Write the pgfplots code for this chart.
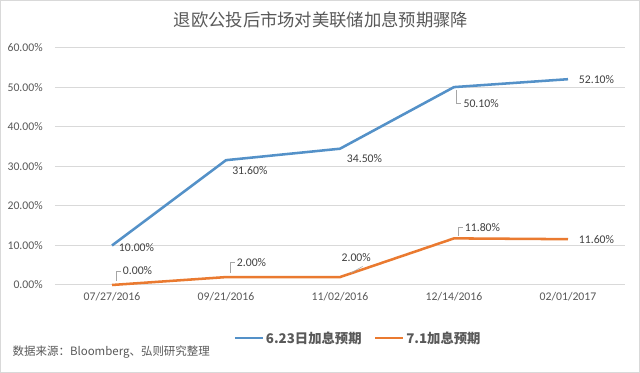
\documentclass[border=0pt]{standalone}
\usepackage{pgfplots}
\pgfplotsset{compat=1.18}
\usepackage{fontspec}
\setmainfont{Carlito}
\newfontfamily\cjk{Noto Sans CJK SC}
\definecolor{blueS}{RGB}{84,145,200}
\definecolor{orangeS}{RGB}{234,122,48}
\definecolor{txt}{RGB}{89,89,89}
\definecolor{lbl}{RGB}{64,64,64}
\definecolor{gridc}{RGB}{217,217,217}
\definecolor{lead}{RGB}{166,166,166}
\begin{document}
\begin{tikzpicture}[x=0.75pt,y=0.75pt]
\path[use as bounding box] (0,0) rectangle (640,373);
\fill[white] (0,0) rectangle (640,373);
\draw[gridc, line width=1pt] (0.7,0.7) rectangle (639.3,372.3);
\node[font=\cjk\fontsize{13}{15}\selectfont, text=txt] at (321,353) {退欧公投后市场对美联储加息预期骤降};
\node[font=\cjk\fontsize{8.6}{10}\selectfont, text=txt, anchor=west] at (8,21) {数据来源：Bloomberg、弘则研究整理};
\begin{axis}[
  at={(41.25pt,66pt)}, anchor=south west,
  scale only axis, width=427.5pt, height=177.75pt,
  xmin=-0.5, xmax=4.5, ymin=0, ymax=60,
  clip=false,
  axis line style={draw=none},
  major tick length=0pt,
  xtick={0,1,2,3,4},
  xticklabels={07/27/2016,09/21/2016,11/02/2016,12/14/2016,02/01/2017},
  ytick={0,10,20,30,40,50,60},
  yticklabel={\pgfmathprintnumber[fixed,fixed zerofill,precision=2]{\tick}\%},
  /pgf/number format/assume math mode=true,
  tick label style={font=\fontsize{8.8}{10}\selectfont, text=txt, inner sep=0pt},
  yticklabel shift=9pt,
  xticklabel shift=5pt,
  ymajorgrids, grid style={gridc, line width=0.75pt},
  legend style={at={(0.532,-0.225)}, anchor=center, draw=none, fill=none,
    legend columns=2, font=\cjk\bfseries\fontsize{10}{12}\selectfont, text=txt,
    nodes={inner xsep=1.5pt},
    /tikz/every even column/.append style={column sep=8pt}},
  legend image code/.code={\draw[#1, line width=1.5pt] (0pt,0pt) -- (21pt,0pt);},
]
\addplot[blueS, line width=1.9pt, line join=round] coordinates {(0,10) (1,31.6) (2,34.5) (3,50.1) (4,52.1)};
\addlegendentry{6.23日加息预期}
\addplot[orangeS, line width=1.9pt, line join=round] coordinates {(0,0) (1,2) (2,2) (3,11.8) (4,11.6)};
\addlegendentry{7.1加息预期}
\tikzset{dl/.style={font=\fontsize{8.8}{10}\selectfont, text=lbl, inner sep=0pt}}
% blue labels
\node[dl, anchor=west, xshift=5pt, yshift=-1.5pt] at (axis cs:0,10) {10.00\%};
\node[dl, anchor=north west, xshift=4.5pt, yshift=-4.5pt] at (axis cs:1,31.6) {31.60\%};
\node[dl, anchor=north west, xshift=5pt, yshift=-4pt] at (axis cs:2,34.5) {34.50\%};
\node[dl, anchor=west, xshift=7pt, yshift=-12pt] at (axis cs:3,50.1) {50.10\%};
\draw[lead, line width=0.4pt] (axis cs:3,50.1) ++(1.5pt,-2pt) -- ++(0pt,-10pt) -- ++(4pt,0pt);
\node[dl, anchor=west, xshift=8pt] at (axis cs:4,52.1) {52.10\%};
% orange labels
\node[dl, anchor=west, xshift=8pt, yshift=10.5pt] at (axis cs:0,0) {0.00\%};
\draw[lead, line width=0.4pt] (axis cs:0,0) ++(3pt,3pt) -- ++(0pt,7.5pt) -- ++(4pt,0pt);
\node[dl, anchor=west, xshift=8pt, yshift=11pt] at (axis cs:1,2) {2.00\%};
\draw[lead, line width=0.4pt] (axis cs:1,2) ++(3pt,3pt) -- ++(0pt,8pt) -- ++(4pt,0pt);
\node[dl, anchor=west, xshift=1pt, yshift=15pt] at (axis cs:2,2) {2.00\%};
\draw[lead, line width=0.4pt] (axis cs:2,2) ++(8pt,3pt) -- ++(9pt,5pt);
\node[dl, anchor=west, xshift=8pt, yshift=8pt] at (axis cs:3,11.8) {11.80\%};
\draw[lead, line width=0.4pt] (axis cs:3,11.8) ++(3pt,2pt) -- ++(0pt,6pt) -- ++(4pt,0pt);
\node[dl, anchor=west, xshift=8pt, yshift=-0.5pt] at (axis cs:4,11.6) {11.60\%};
\end{axis}
\end{tikzpicture}
\end{document}
